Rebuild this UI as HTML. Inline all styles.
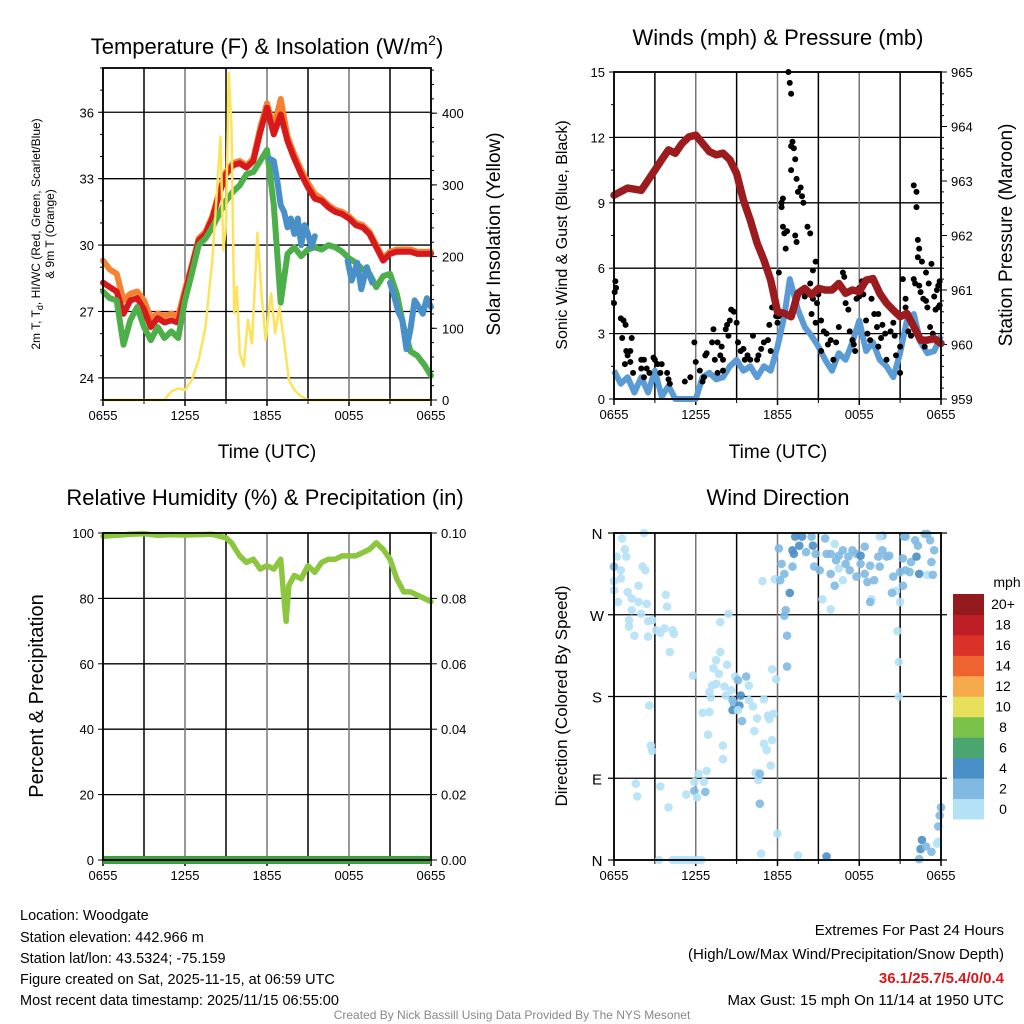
<!DOCTYPE html>
<html><head><meta charset="utf-8"><style>
body{margin:0;background:#fff;}
svg{display:block;font-family:"Liberation Sans",sans-serif;}
</style></head><body>
<svg id="s" width="1024" height="1024" viewBox="0 0 1024 1024">
<g id="g1"></g>
<g id="g2"></g>
<g id="g3"></g>
<g id="g4"></g>
<text x="267" y="54" font-size="22" text-anchor="middle">Temperature (F) &amp; Insolation (W/m<tspan font-size="14" dy="-9">2</tspan><tspan dy="9">)</tspan></text>
<text x="778" y="45" font-size="22" text-anchor="middle">Winds (mph) &amp; Pressure (mb)</text>
<text x="265" y="505" font-size="22" text-anchor="middle">Relative Humidity (%) &amp; Precipitation (in)</text>
<text x="778" y="505" font-size="22" text-anchor="middle">Wind Direction</text>
<text transform="translate(40,234) rotate(-90)" font-size="12" text-anchor="middle">2m T, T<tspan font-size="9" dy="3">d</tspan><tspan dy="-3">, HI/WC (Red, Green, Scarlet/Blue)</tspan></text>
<text transform="translate(54,234) rotate(-90)" font-size="12" text-anchor="middle">&amp; 9m T (Orange)</text>
<text transform="translate(500,234) rotate(-90)" font-size="19" text-anchor="middle">Solar Insolation (Yellow)</text>
<text transform="translate(567,235) rotate(-90)" font-size="16" text-anchor="middle">Sonic Wind &amp; Gust (Blue, Black)</text>
<text transform="translate(1012,235) rotate(-90)" font-size="19" text-anchor="middle">Station Pressure (Maroon)</text>
<text transform="translate(43,696) rotate(-90)" font-size="20" text-anchor="middle">Percent &amp; Precipitation</text>
<text transform="translate(567,696) rotate(-90)" font-size="17" text-anchor="middle">Direction (Colored By Speed)</text>
<text x="267" y="458" font-size="19" text-anchor="middle">Time (UTC)</text>
<text x="778" y="458" font-size="19" text-anchor="middle">Time (UTC)</text>
<g font-size="14.5">
<text x="20" y="920">Location: Woodgate</text>
<text x="20" y="942">Station elevation: 442.966 m</text>
<text x="20" y="963">Station lat/lon: 43.5324; -75.159</text>
<text x="20" y="984">Figure created on Sat, 2025-11-15, at 06:59 UTC</text>
<text x="20" y="1005">Most recent data timestamp: 2025/11/15 06:55:00</text>
</g>
<g font-size="15" text-anchor="end">
<text x="1004" y="935">Extremes For Past 24 Hours</text>
<text x="1004" y="959">(High/Low/Max Wind/Precipitation/Snow Depth)</text>
<text x="1004" y="983" fill="#d7191c" font-weight="bold">36.1/25.7/5.4/0/0.4</text>
<text x="1004" y="1005">Max Gust: 15 mph On 11/14 at 1950 UTC</text>
</g>
<text x="512" y="1019" font-size="12" fill="#888" text-anchor="middle">Created By Nick Bassill Using Data Provided By The NYS Mesonet</text>
</svg>
<script>
// ---- data ----
const tHours=[0,0.5,1,1.5,2,2.5,3,3.5,4,4.5,5,5.5,6,6.5,7,7.5,8,8.5,9,9.5,10,10.5,11,11.5,12,12.5,13,13.5,14,14.5,15,15.5,16,16.5,17,17.5,18,18.5,19,19.5,20,20.5,21,21.5,22,22.5,23,23.5,24];
const tempRed=[28.3,28.1,27.9,26.9,27.5,27.6,27.1,26.3,26.7,26.5,26.6,26.5,27.8,29.0,30.2,30.5,31.2,32.3,33.2,33.6,33.7,33.5,33.8,35.1,36.2,35.0,35.9,34.7,33.9,33.2,32.6,32.1,32.0,31.7,31.5,31.4,31.2,30.9,30.8,30.5,29.9,29.3,29.6,29.7,29.7,29.7,29.6,29.6,29.6];
const temp9m=[29.3,28.9,28.7,27.5,27.8,27.9,27.5,26.7,26.9,26.8,26.9,26.8,28.0,29.1,30.3,30.6,31.3,32.4,33.3,33.7,33.8,33.6,33.9,35.3,36.4,35.3,36.6,34.9,34.1,33.4,32.8,32.3,32.1,31.8,31.6,31.5,31.3,31.0,30.9,30.6,30.0,29.4,29.7,29.8,29.8,29.8,29.7,29.7,29.7];
const dewGreen=[27.9,27.6,27.5,25.5,26.6,27.2,26.3,25.7,26.3,25.8,26.1,25.8,27.5,28.7,30.0,30.3,30.8,31.4,32.0,32.4,32.7,33.2,33.3,33.8,34.3,31.8,27.4,29.6,29.9,29.5,29.8,29.9,29.8,30.0,29.9,29.7,29.4,29.2,28.9,28.7,28.1,28.6,28.7,27.8,26.3,25.2,25.0,24.6,24.1];
const wcHours=[12.2,12.5,12.75,13,13.25,13.5,13.75,14,14.25,14.5,14.75,15,15.25,15.5, null, 17.9,18.2,18.6,18.9,19.3,19.7, null, 21.0,21.3,21.6,21.9,22.2,22.5,22.8,23.1,23.4,23.7,24];
const wcTemp=[33.9,33.8,32.9,31.8,31.5,30.8,31.2,30.5,31.2,30.0,30.9,30.5,29.9,30.4, null, 29.3,28.4,29.2,28.0,29.0,28.3, null, 28.3,27.7,27.0,26.6,25.3,26.2,27.5,27.2,26.9,27.6,27.2];
const solarHours=[0,4.5,5,5.5,6,6.5,7,7.5,8,8.3,8.6,8.8,9,9.2,9.4,9.6,9.8,10,10.3,10.6,10.9,11.3,11.6,11.9,12.3,12.6,12.9,13.3,13.6,14,14.5,15,24];
const solarVals=[0,0,12,16,14,28,56,102,195,280,367,209,242,456,381,121,158,65,47,112,79,233,149,84,149,93,130,74,28,14,5,0,0];
const windHours=[0,0.5,1,1.5,2,2.5,3,3.5,4,4.5,5,5.5,6,6.5,7,7.5,8,8.5,9,9.5,10,10.5,11,11.5,12,12.5,12.9,13.5,14,14.5,15,15.5,16,16.5,17,17.5,18,18.5,19,19.5,20,20.5,21,21.5,22,22.5,23,23.5,24];
const windSpd=[1.3,0.7,1.0,0.3,1.0,0.3,1.3,0.1,0.6,0,0,0,0,1.0,1.2,0.9,1.0,1.5,1.8,1.3,1.5,1.0,1.5,1.3,2.4,3.8,5.5,4.1,3.3,2.9,2.4,1.8,1.3,2.1,1.8,2.6,3.6,2.2,2.6,1.8,1.5,1.0,2.1,3.6,3.9,2.6,2.1,2.2,2.9];
const presVals=[962.74,962.87,962.83,963.20,963.39,963.57,963.51,963.69,963.81,963.84,963.69,963.54,963.48,963.51,963.39,963.14,962.65,962.28,961.86,961.55,961.18,960.60,960.57,960.51,960.94,961.03,960.91,961.03,961.0,961.0,961.12,960.94,961.0,960.97,961.18,961.21,960.94,960.76,960.63,960.51,960.57,960.33,960.08,960.08,960.11,960.02];
const presHours=[0,1,2,3,3.5,4,4.5,5,5.5,6,6.5,7,7.5,8,8.5,9,9.5,10,10.5,11,11.5,12,12.5,13,13.5,14,14.5,15,15.5,16,16.5,17,17.5,18,18.5,19,19.5,20,20.5,21,21.5,22,22.5,23,23.5,24];
const gustHours=[0,0.05,0.1,0.15,0.5,0.7,0.85,0.6,0.9,1.0,1.2,1.3,0.8,1.2,1.4,2.0,2.2,2.0,2.2,2.4,2.6,2.9,3.0,3.2,3.5,3.4,3.9,4.0,4.1,5.2,5.6,5.9,6.0,6.3,6.5,6.6,6.7,6.8,7.3,7.2,7.6,7.9,7.8,8.0,7.4,7.6,8.0,8.2,8.3,8.4,8.6,8.8,8.5,9.0,9.3,9.1,9.5,9.6,9.8,10.0,10.2,10.5,10.6,10.8,11.0,11.4,11.6,11.9,11.3,11.5,12.0,12.1,12.1,12.3,12.3,12.4,12.5,12.4,12.7,12.6,12.8,12.9,13.0,13.0,13.1,13.2,13.3,13.0,13.4,13.5,13.7,13.8,13.9,13.3,13.4,14.2,14.4,14.6,14.8,14.4,14.0,14.1,14.6,14.9,15.0,14.5,14.8,15.2,15.4,15.6,15.7,15.9,15.2,16.1,16.3,16.5,16.8,16.9,17.0,17.2,17.3,17.5,17.6,17.7,17.8,18.0,18.0,18.2,18.3,18.5,18.6,18.8,18.9,19.1,19.3,19.4,19.6,19.7,19.9,19.4,20.0,20.3,20.5,20.6,20.7,21.0,21.0,21.2,21.4,21.4,21.6,21.8,22.0,22.2,22.2,22.3,22.4,22.0,22.1,22.3,22.4,22.6,22.5,22.7,22.9,23.1,23.3,23.5,23.6,23.4,23.8,23.8,23.7,23.9,23.9,22.9,23.2,22.8,23.0];
const gustSpd=[4.4,4.9,5.4,5.1,3.7,3.6,3.4,2.8,2.2,2.0,2.2,2.8,1.6,1.7,1.2,1.8,1.8,1.4,1.0,1.4,1.2,1.9,1.8,1.6,1.6,1.2,1.2,0.9,0.7,0.8,1.0,2.6,1.7,1.3,0.8,1.0,2.0,2.1,3.2,2.6,2.6,2.4,2.0,1.8,1.8,1.2,1.3,3.2,3.4,2.9,4.1,4.0,3.6,3.5,2.2,2.6,2.3,1.8,2.0,1.8,2.9,1.8,2.0,2.3,2.6,3.4,4.2,3.8,2.7,2.2,3.5,3.8,5.8,9.0,8.8,9.2,7.6,7.9,7.7,6.9,15.0,14.5,14.0,11.6,11.8,11.5,11.0,10.5,10.1,9.5,9.7,9.3,9.0,7.5,7.2,7.9,7.6,5.9,6.3,5.3,4.7,4.9,4.6,4.4,4.8,3.9,3.5,3.6,3.1,3.0,2.5,2.7,2.2,1.8,2.6,3.3,5.8,5.6,4.4,4.1,3.1,2.7,2.5,2.2,4.6,4.7,5.1,5.4,4.8,3.6,3.0,2.7,4.6,3.9,3.3,3.9,2.8,3.4,3.0,2.4,1.8,3.1,3.5,2.9,2.0,2.4,1.2,5.5,4.6,4.2,3.1,2.9,9.8,9.5,8.8,7.3,6.9,5.5,5.3,6.5,5.2,6.3,4.9,4.6,5.8,5.3,6.2,4.7,4.1,3.0,5.2,4.2,5.0,5.4,4.3,4.5,3.3,2.4,4.2];
const rhHours=[0,1,2,3,4,5,6,7,8,9,9.4,10,10.5,11,11.5,12,12.5,13,13.2,13.4,13.6,14,14.5,15,15.5,16,16.5,17,17.5,18,18.5,19,19.5,20,20.5,21,21.5,22,22.5,23,23.5,24];
const rhVals=[99,99.3,99.6,99.8,99.3,99.5,99.4,99.5,99.6,98.5,97,93,91,92,89,90,89,92,82,73,84,87,86,90,88,91,92,92,93,93,93,94,95,97,95,92,86,82,82,81,80,79];
const precipVals=[0,0];
const dirHours=[0.6,0.0,0.0,0.0,0.3,0.2,0.5,0.5,0.8,0.9,2.2,2.1,2.3,1.8,1.0,1.3,1.8,2.4,1.3,2.0,1.1,1.1,1.5,2.5,2.8,2.5,3.1,3.7,3.4,3.8,3.9,4.3,4.4,4.1,2.6,2.7,2.8,1.6,1.7,3.4,4.0,3.3,4.3,4.6,4.9,5.2,5.5,5.8,6.1,6.4,5.8,7.8,8.4,7.5,7.3,7.7,7.8,8.3,7.2,7.0,7.1,7.5,8.1,8.2,8.6,8.9,9.1,9.7,9.3,8.7,8.8,8.7,9.2,9.1,9.4,9.9,9.9,10.2,11.0,11.3,11.7,11.4,10.5,10.3,11.0,11.2,11.6,11.5,10.4,10.6,10.7,10.7,12.0,10.8,6.9,8.0,8.0,6.5,7.0,6.2,6.8,5.9,6.6,5.9,6.7,6.1,5.3,11.6,11.9,10.9,12.1,11.8,12.2,12.3,12.5,12.6,12.5,12.7,12.7,12.9,13.1,13.1,13.2,13.3,13.6,13.8,14.1,14.6,14.5,14.8,14.7,15.1,15.3,15.5,15.6,15.9,16.2,15.9,15.9,16.3,16.5,16.8,17.2,17.5,17.8,18.1,18.4,16.5,17.0,17.3,17.8,18.1,18.4,18.8,18.6,19.1,19.4,19.5,19.7,20.0,20.2,19.7,19.5,20.5,20.7,20.4,21.2,21.4,21.4,21.7,21.8,22.1,22.3,22.2,22.4,22.8,23.0,23.2,23.3,23.5,23.0,23.4,16.2,16.8,18.9,21.0,20.8,20.9,20.9,13.5,15.6,22.4,22.5,22.6,22.9,23.3,23.7,23.8,23.8,23.9,24.0,21.3,21.0,21.2,18.8];
const dirDeg=[354,323,307,297,284,334,319,310,342,334,360,323,319,302,295,288,284,282,275,271,264,257,247,263,264,246,253,255,250,292,279,253,249,229,170,126,120,84,70,81,58,0,0,0,0,0,0,0,0,0,203,262,271,220,211,205,229,215,192,185,179,194,191,181,187,202,198,202,181,176,172,165,170,165,153,192,176,169,177,159,161,155,156,142,128,121,132,104,96,88,95,62,29,7,138,126,111,162,163,95,98,86,86,76,75,69,72,210,199,307,343,309,308,326,315,275,269,247,213,294,323,341,337,356,346,356,339,346,356,337,323,319,287,354,337,337,348,276,315,330,335,341,334,341,337,335,345,321,326,319,312,326,315,324,306,308,334,323,341,334,335,357,356,312,296,294,332,356,319,317,328,352,346,334,315,359,359,352,328,341,314,314,302,308,287,284,252,218,180,5,4,1,12,22,15,9,18,20,37,49,58,356,317,302,284];
const dirSpd=[1,3,1,1,1,1,1,1,1,1,1,1,1,1,1,1,1,1,1,1,1,1,1,1,1,1,1,1,1,1,1,1,1,1,1,1,1,1,1,1,1,1,1,1,1,1,1,1,1,1,1,1,1,1,1,1,1,1,1,1,1,1,1,1,1,1,3,3,5,3,3,5,5,1,3,1,1,1,1,1,1,1,1,1,1,1,1,1,1,1,3,3,1,1,1,1,1,1,1,1,1,1,1,3,3,1,1,1,1,1,3,1,3,3,3,3,3,3,3,5,3,5,5,5,5,5,3,5,3,3,3,3,1,3,3,3,1,1,3,3,3,3,3,3,3,5,3,1,3,3,3,3,3,3,3,3,3,3,3,3,3,3,1,3,1,3,3,3,3,3,3,3,3,5,5,3,3,3,3,3,1,3,3,1,1,1,1,1,1,1,5,3,5,5,3,3,1,1,3,3,3,3,3,3,3,1];
const tickLabels=["0655","1255","1855","0055","0655"];
const tempTicks=[24,27,30,33,36];
const solarTicks=[0,100,200,300,400];
const windTicks=[0,3,6,9,12,15];
const presTicks=[959,960,961,962,963,964,965];
const rhTicks=[0,20,40,60,80,100];
const prTicks=["0.00","0.02","0.04","0.06","0.08","0.10"];
const dirTicks=["N","E","S","W","N"];
const cbLabels=["0","2","4","6","8","10","12","14","16","18","20+"];
const cbColors=["#b5e1f6","#80b9e2","#4b8fc7","#4aa66e","#7bc24b","#e6df5a","#f6aa4b","#ee6330","#da3229","#be1e26","#951a1d"];

// ---- helpers ----
const NS="http://www.w3.org/2000/svg";
function mk(p,tag,a){const e=document.createElementNS(NS,tag);for(const k in a)e.setAttribute(k,a[k]);p.appendChild(e);return e;}
function txt(p,x,y,s,size,anchor){const e=mk(p,"text",{x:x,y:y,"font-size":size||13,"text-anchor":anchor||"middle"});e.textContent=s;return e;}
function linePath(xs,ys,fx,fy){let d="",pen=false;for(let i=0;i<xs.length;i++){if(xs[i]===null||ys[i]===null){pen=false;continue;}d+=(pen?"L":"M")+fx(xs[i]).toFixed(1)+","+fy(ys[i]).toFixed(1);pen=true;}return d;}
function frame(g,L,T,R,B){
  for(let h=0;h<=24;h+=3){const x=L+(R-L)*h/24;const l=mk(g,"line",{x1:x,y1:T,x2:x,y2:B,stroke:h%6==0?"#777":"#000","stroke-width":1.5});
    if(h%6==0){mk(g,"line",{x1:x,y1:B,x2:x,y2:B+6,stroke:"#000","stroke-width":1.5});const t=txt(g,x,B+20,tickLabels[h/6],13);}
    else mk(g,"line",{x1:x,y1:B,x2:x,y2:B+4,stroke:"#000"});}
}
function border(g,L,T,R,B){const r=mk(g,"rect",{x:L,y:T,width:R-L,height:B-T,fill:"none",stroke:"#000","stroke-width":1.8});}

// ---- Panel 1 ----
(function(){const g=document.getElementById("g1");const L=103,T=68,R=431,B=400;
 const fx=h=>L+(R-L)*h/24, fy=t=>B-(t-23)*(B-T)/15, fs=v=>B-v*(B-T)/463;
 for(const t of tempTicks){const y=fy(t);mk(g,"line",{x1:L,y1:y,x2:R,y2:y,stroke:"#000","stroke-width":1.3});mk(g,"line",{x1:L-5,y1:y,x2:L,y2:y,stroke:"#000"});const e=txt(g,L-9,y+5,String(t),13,"end");}
 for(let t=23;t<=38;t++){mk(g,"line",{x1:L-3,y1:fy(t),x2:L,y2:fy(t),stroke:"#000"});}
 for(const v of solarTicks){const y=fs(v);mk(g,"line",{x1:R,y1:y,x2:R+6,y2:y,stroke:"#000"});const e=txt(g,R+11,y+5,String(v),13,"start");}
 for(let v=20;v<=460;v+=20){mk(g,"line",{x1:R,y1:fs(v),x2:R+3,y2:fs(v),stroke:"#000"});}
 frame(g,L,T,R,B);
 const sw=6;
 let p=mk(g,"path",{d:linePath(tHours,temp9m,fx,fy),fill:"none",stroke:"#f58231","stroke-width":sw,"stroke-linejoin":"round","stroke-linecap":"round"});
 p=mk(g,"path",{d:linePath(tHours,tempRed,fx,fy),fill:"none",stroke:"#d7191c","stroke-width":sw,"stroke-linejoin":"round","stroke-linecap":"round"});
 p=mk(g,"path",{d:linePath(tHours,dewGreen,fx,fy),fill:"none",stroke:"#4daf4a","stroke-width":sw,"stroke-linejoin":"round","stroke-linecap":"round"});
 p=mk(g,"path",{d:linePath(wcHours,wcTemp,fx,fy),fill:"none",stroke:"#4a90c8","stroke-width":sw,"stroke-linejoin":"round","stroke-linecap":"round"});
 p=mk(g,"path",{d:linePath(solarHours,solarVals,fx,fs),fill:"none",stroke:"#fde35a","stroke-width":2.5,"stroke-linejoin":"round"});
 border(g,L,T,R,B);
})();

// ---- Panel 2 ----
(function(){const g=document.getElementById("g2");const L=614,T=72,R=941,B=399;
 const fx=h=>L+(R-L)*h/24, fy=v=>B-v*(B-T)/15, fp=p=>B-(p-959)*(B-T)/6;
 for(const t of windTicks){const y=fy(t);mk(g,"line",{x1:L,y1:y,x2:R,y2:y,stroke:"#000","stroke-width":1.3});mk(g,"line",{x1:L-5,y1:y,x2:L,y2:y,stroke:"#000"});const e=txt(g,L-9,y+5,String(t),13,"end");}
 for(let t=1.5;t<15;t+=3){mk(g,"line",{x1:L-3,y1:fy(t),x2:L,y2:fy(t),stroke:"#000"});}
 for(const v of presTicks){const y=fp(v);mk(g,"line",{x1:R,y1:y,x2:R+6,y2:y,stroke:"#000"});const e=txt(g,R+10,y+5,String(v),13,"start");}
 for(let v=959.2;v<965;v+=0.2){mk(g,"line",{x1:R,y1:fp(v),x2:R+3,y2:fp(v),stroke:"#000"});}
 frame(g,L,T,R,B);
 let p=mk(g,"path",{d:linePath(windHours,windSpd,fx,fy),fill:"none",stroke:"#5b9bd5","stroke-width":6,"stroke-linejoin":"round"});
 for(let i=0;i<gustHours.length;i++){const c=mk(g,"circle",{cx:fx(gustHours[i]),cy:fy(gustSpd[i]),r:3,fill:"#000"});}
 p=mk(g,"path",{d:linePath(presHours,presVals,fx,fp),fill:"none",stroke:"#9b1b1e","stroke-width":7.5,"stroke-linejoin":"round","stroke-linecap":"round"});
 border(g,L,T,R,B);
})();

// ---- Panel 3 ----
(function(){const g=document.getElementById("g3");const L=103,T=533,R=431,B=860;
 const fx=h=>L+(R-L)*h/24, fy=v=>B-v*(B-T)/100;
 rhTicks.forEach((t,i)=>{const y=fy(t);mk(g,"line",{x1:L,y1:y,x2:R,y2:y,stroke:"#000","stroke-width":1.3});mk(g,"line",{x1:L-5,y1:y,x2:L,y2:y,stroke:"#000"});mk(g,"line",{x1:R,y1:y,x2:R+6,y2:y,stroke:"#000"});const e=txt(g,L-9,y+5,String(t),13,"end");const f=txt(g,R+10,y+5,prTicks[i],13,"start");});
 frame(g,L,T,R,B);
 let p=mk(g,"path",{d:linePath(rhHours,rhVals,fx,fy),fill:"none",stroke:"#8cc63f","stroke-width":5.5,"stroke-linejoin":"round","stroke-linecap":"round"});
 p=mk(g,"path",{d:linePath([0,24],precipVals,fx,v=>B-v*(B-T)/0.1),fill:"none",stroke:"#3f9e3f","stroke-width":8});
 border(g,L,T,R,B);
})();

// ---- Panel 4 ----
(function(){const g=document.getElementById("g4");const L=614,T=533,R=941,B=860;
 const fx=h=>L+(R-L)*h/24, fy=d=>B-d*(B-T)/360;
 dirTicks.forEach((t,i)=>{const y=fy(i*90);mk(g,"line",{x1:L-6,y1:y,x2:R+6,y2:y,stroke:"#000","stroke-width":1.3});const e=txt(g,L-17,y+6,t,15,"middle");});
 frame(g,L,T,R,B);
 const col=s=>cbColors[Math.min(10,Math.floor(s/2))];
 for(let i=0;i<dirHours.length;i++){const c=mk(g,"circle",{cx:fx(dirHours[i]),cy:fy(dirDeg[i]),r:4.3,fill:col(dirSpd[i]),"fill-opacity":0.9});}
 border(g,L,T,R,B);
 const cb=mk(g,"g",{});
 const h=(819-594)/11;
 for(let i=0;i<11;i++){const y=819-(i+1)*h;mk(cb,"rect",{x:953,y:y,width:31,height:h+0.5,fill:cbColors[i]});const e=txt(cb,1003,y+h/2+5,cbLabels[i],14,"middle");}
 const u=txt(cb,1007,587,"mph",14,"middle");
})();
</script>
</body></html>
